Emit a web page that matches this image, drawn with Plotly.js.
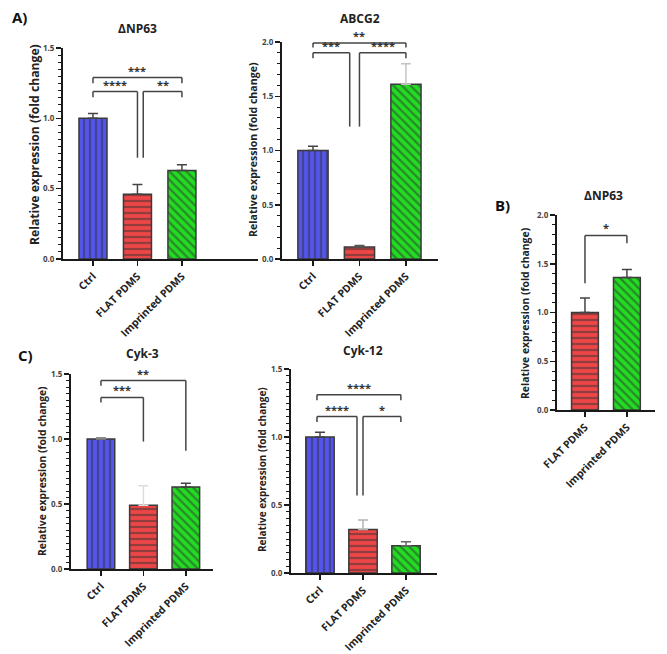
<!DOCTYPE html>
<html><head><meta charset="utf-8">
<script src="https://cdn.plot.ly/plotly-3.0.1.min.js"></script>
<style>html,body{margin:0;padding:0;background:#fff}#chart{width:667px;height:654px}</style>
</head><body><div id="chart"></div>
<script>
// ---------------- DATA ----------------
const groups3 = ['Ctrl', 'FLAT PDMS', 'Imprinted PDMS'];
const groups2 = ['FLAT PDMS', 'Imprinted PDMS'];

const np63A_mean = [1.00, 0.46, 0.63];
const np63A_sd   = [0.035, 0.07, 0.04];
const abcg2_mean = [1.00, 0.11, 1.61];
const abcg2_sd   = [0.04, 0.015, 0.19];
const np63B_mean = [1.00, 1.36];
const np63B_sd   = [0.15, 0.08];
const cyk3_mean  = [1.00, 0.49, 0.63];
const cyk3_sd    = [0.01, 0.15, 0.03];
const cyk12_mean = [1.00, 0.32, 0.20];
const cyk12_sd   = [0.035, 0.07, 0.03];

// significance comparisons: bracket between group positions, bracket level, leg ends, label
const np63A_sig = [
  {from: 0, to: 2, level: 1.29, ends: [1.25, 1.25], label: '***'},
  {from: 0, to: 1, level: 1.19, ends: [1.15, 0.72], label: '****'},
  {from: 1.13, to: 2, level: 1.19, ends: [0.72, 1.15], label: '**'}
];
const abcg2_sig = [
  {from: 0, to: 2, level: 1.99, ends: [1.95, 1.95], label: '**'},
  {from: 0, to: 0.79, level: 1.90, ends: [1.85, 1.22], label: '***'},
  {from: 1, to: 2, level: 1.90, ends: [1.22, 1.85], label: '****'}
];
const np63B_sig = [
  {from: 0, to: 1, level: 1.79, ends: [1.30, 1.71], label: '*'}
];
const cyk3_sig = [
  {from: 0, to: 2, level: 1.45, ends: [1.41, 0.91], label: '**'},
  {from: 0, to: 1, level: 1.32, ends: [1.28, 0.98], label: '***'}
];
const cyk12_sig = [
  {from: -0.07, to: 1.88, level: 1.31, ends: [1.27, 1.27], label: '****'},
  {from: -0.07, to: 0.86, level: 1.15, ends: [1.11, 0.57], label: '****'},
  {from: 1, to: 1.88, level: 1.15, ends: [0.57, 1.11], label: '*'}
];

// ---------------- STYLE ----------------
const W = 667, H = 654;
const FONT = 'Open Sans, Liberation Sans, sans-serif';
const groupStyle = {
  'Ctrl':           {color: '#5454ee', shape: '|'},
  'FLAT PDMS':      {color: '#ee4646', shape: '-'},
  'Imprinted PDMS': {color: '#22dd22', shape: '\\'}
};
const panels = [
  {n: '',  cats: groups3, mean: np63A_mean, sd: np63A_sd, sig: np63A_sig, box: [63, 48, 258, 259], ymax: 1.5, xr: [-0.674, 3.71], minor: 0.05, bw: 0.63,
   errColor: ['#444', '#444', '#444'], title: 'ΔNP63', tpos: [137, 28], ylab: [35, 145, 12.2]},
  {n: '2', cats: groups3, mean: abcg2_mean, sd: abcg2_sd, sig: abcg2_sig, box: [282, 42, 438, 259], ymax: 2.0, xr: [-0.667, 2.69], minor: 0.1, bw: 0.65,
   errColor: ['#444', '#555', '#c4c4c4'], title: 'ABCG2', tpos: [360, 18], ylab: [253, 150, 10.6]},
  {n: '3', cats: groups2, mean: np63B_mean, sd: np63B_sd, sig: np63B_sig, box: [557, 215, 655, 410], ymax: 2.0, xr: [-0.667, 1.67], minor: 0.1, bw: 0.64,
   errColor: ['#444', '#444'], title: 'ΔNP63', tpos: [603, 195], ylab: [525, 313, 10.4]},
  {n: '4', cats: groups3, mean: cyk3_mean, sd: cyk3_sd, sig: cyk3_sig, box: [71, 374, 213, 569], ymax: 1.5, xr: [-0.706, 2.64], minor: 0.05, bw: 0.65,
   errColor: ['#888', '#ddd', '#444'], title: 'Cyk-3', tpos: [142, 353], ylab: [42, 471, 10.3]},
  {n: '5', cats: groups3, mean: cyk12_mean, sd: cyk12_sd, sig: cyk12_sig, box: [291, 369, 437, 573], ymax: 1.5, xr: [-0.674, 2.72], minor: 0.05, bw: 0.66,
   errColor: ['#444', '#b4b4b4', '#666'], title: 'Cyk-12', tpos: [363, 350], ylab: [262, 470, 10.0]}
];

const traces = [];
const layout = {
  width: W, height: H, margin: {l: 0, r: 0, t: 0, b: 0},
  paper_bgcolor: '#fff', plot_bgcolor: 'rgba(0,0,0,0)',
  barmode: 'overlay', showlegend: false,
  font: {family: FONT, color: '#222'},
  shapes: [], annotations: []
};

const px = x => x / W, py = y => 1 - y / H;

panels.forEach(p => {
  const xa = 'x' + p.n, ya = 'y' + p.n;
  p.cats.forEach((c, i) => {
    const st = groupStyle[c];
    traces.push({
      type: 'bar', x: [c], y: [p.mean[i]], width: p.bw,
      xaxis: xa, yaxis: ya, hoverinfo: 'skip',
      marker: {
        color: st.color,
        line: {color: '#3a3a3a', width: 1.5},
        pattern: {shape: st.shape, fgcolor: '#333333', fillmode: 'overlay', size: 6, solidity: 0.38}
      },
      error_y: {type: 'data', symmetric: false, array: [p.sd[i]], arrayminus: [0],
                color: p.errColor[i], thickness: 1.5, width: 5}
    });
  });
  const [l, t, r, b] = p.box;
  layout['xaxis' + p.n] = {
    domain: [px(l), px(r)], anchor: ya, type: 'category',
    categoryorder: 'array', categoryarray: p.cats, range: p.xr,
    showline: true, linecolor: '#1a1a1a', linewidth: 2,
    ticks: 'outside', ticklen: 5, tickwidth: 1.5, tickcolor: '#1a1a1a',
    tickangle: -45, tickfont: {family: FONT, size: 10.5, color: '#222', weight: 'bold'},
    showgrid: false, zeroline: false, automargin: false, fixedrange: true
  };
  layout['yaxis' + p.n] = {
    domain: [py(b), py(t)], anchor: xa, range: [0, p.ymax],
    dtick: 0.5, tickformat: '.1f',
    showline: true, linecolor: '#1a1a1a', linewidth: 2,
    ticks: 'outside', ticklen: 5, tickwidth: 1.5, tickcolor: '#1a1a1a',
    tickfont: {family: FONT, size: 8, color: '#444', weight: 'bold'},
    minor: {ticks: 'outside', ticklen: 3, tickwidth: 1, tickcolor: '#1a1a1a', dtick: p.minor, showgrid: false},
    showgrid: false, zeroline: false, automargin: false, fixedrange: true
  };
  // significance brackets
  p.sig.forEach(s => {
    const ln = {type: 'line', xref: xa, yref: ya, line: {color: '#444', width: 1.5}, layer: 'above'};
    layout.shapes.push(Object.assign({}, ln, {x0: s.from, x1: s.from, y0: s.ends[0], y1: s.level}));
    layout.shapes.push(Object.assign({}, ln, {x0: s.from, x1: s.to, y0: s.level, y1: s.level}));
    layout.shapes.push(Object.assign({}, ln, {x0: s.to, x1: s.to, y0: s.level, y1: s.ends[1]}));
    layout.annotations.push({
      xref: xa, yref: ya, x: (s.from + s.to) / 2, y: s.level, text: s.label,
      showarrow: false, xanchor: 'center', yanchor: 'bottom', yshift: -2,
      font: {family: FONT, size: 11, color: '#333', weight: 'bold'}
    });
  });
  // panel title
  layout.annotations.push({
    xref: 'paper', yref: 'paper', x: px(p.tpos[0]), y: py(p.tpos[1]), text: p.title,
    showarrow: false, xanchor: 'center', yanchor: 'middle',
    font: {family: FONT, size: 12, color: '#222', weight: 'bold'}
  });
  // y-axis title
  layout.annotations.push({
    xref: 'paper', yref: 'paper', x: px(p.ylab[0]), y: py(p.ylab[1]),
    text: 'Relative expression (fold change)', textangle: -90,
    showarrow: false, xanchor: 'center', yanchor: 'middle',
    font: {family: FONT, size: p.ylab[2], color: '#222', weight: 'bold'}
  });
});

// panel letters
[['A)', 19, 17], ['B)', 502, 205], ['C)', 25, 355]].forEach(([t, x, y]) => {
  layout.annotations.push({
    xref: 'paper', yref: 'paper', x: px(x), y: py(y), text: t, showarrow: false,
    xanchor: 'center', yanchor: 'middle',
    font: {family: FONT, size: 15, color: '#111', weight: 'bold'}
  });
});

Plotly.newPlot('chart', traces, layout, {displayModeBar: false, staticPlot: true});
</script>
</body></html>
